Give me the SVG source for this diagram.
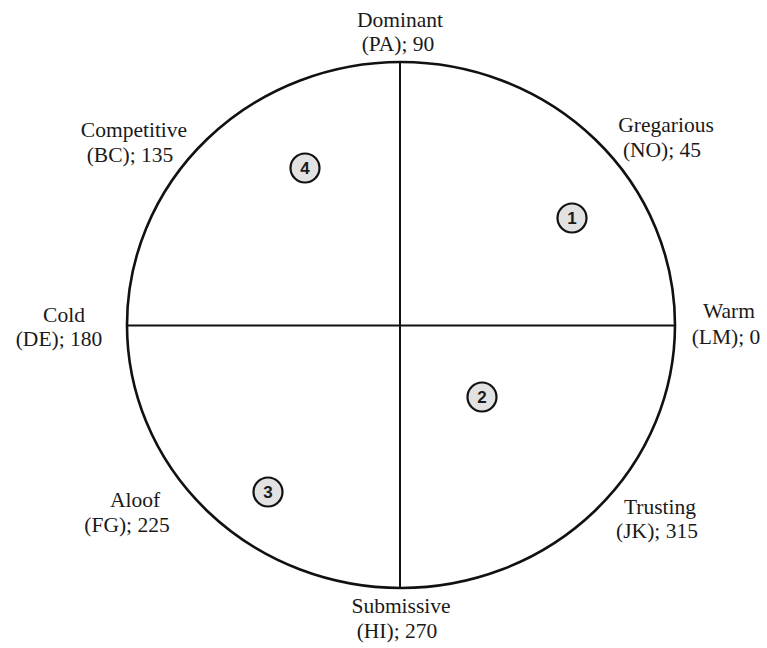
<svg xmlns="http://www.w3.org/2000/svg" width="767" height="648" viewBox="0 0 767 648">
<style>
.lbl{font-family:"Liberation Serif","Times New Roman",serif;font-size:21.5px;fill:#1a1a1a;text-anchor:middle}
.num{font-family:"Liberation Sans",Arial,sans-serif;font-size:17px;font-weight:bold;fill:#1a1a1a;text-anchor:middle}
.mark{fill:#e2e2e2;stroke:#111;stroke-width:2.2}
.axis{stroke:#111;stroke-width:2;fill:none}
</style>
<rect width="767" height="648" fill="#fff"/>
<g id="circumplex">
<ellipse cx="401" cy="325" rx="274" ry="263" fill="none" stroke="#111" stroke-width="2.6"/>
</g>
<g id="connectors">
<line class="axis" x1="400" y1="62" x2="400" y2="588"/>
<line class="axis" x1="127" y1="325.5" x2="675" y2="325.5"/>
</g>
<g id="label-dominant"><text class="lbl" x="400" y="27">Dominant</text><text class="lbl" x="398" y="51">(PA); 90</text></g>
<g id="label-gregarious"><text class="lbl" x="666" y="132">Gregarious</text><text class="lbl" x="662" y="157">(NO); 45</text></g>
<g id="label-warm"><text class="lbl" x="729" y="318">Warm</text><text class="lbl" x="726" y="344">(LM); 0</text></g>
<g id="label-trusting"><text class="lbl" x="660" y="514">Trusting</text><text class="lbl" x="657" y="538">(JK); 315</text></g>
<g id="label-submissive"><text class="lbl" x="401" y="613">Submissive</text><text class="lbl" x="397" y="638">(HI); 270</text></g>
<g id="label-aloof"><text class="lbl" x="135" y="507">Aloof</text><text class="lbl" x="127" y="532">(FG); 225</text></g>
<g id="label-cold"><text class="lbl" x="64" y="322">Cold</text><text class="lbl" x="59" y="346">(DE); 180</text></g>
<g id="label-competitive"><text class="lbl" x="134" y="137">Competitive</text><text class="lbl" x="130" y="162">(BC); 135</text></g>
<g id="point-1"><circle class="mark" cx="572" cy="218" r="14.5"/><text class="num" x="572" y="224">1</text></g>
<g id="point-2"><circle class="mark" cx="482" cy="397" r="14.5"/><text class="num" x="482" y="403">2</text></g>
<g id="point-3"><circle class="mark" cx="268" cy="492" r="14.5"/><text class="num" x="268" y="498">3</text></g>
<g id="point-4"><circle class="mark" cx="305" cy="168" r="14.5"/><text class="num" x="305" y="174">4</text></g>
</svg>
